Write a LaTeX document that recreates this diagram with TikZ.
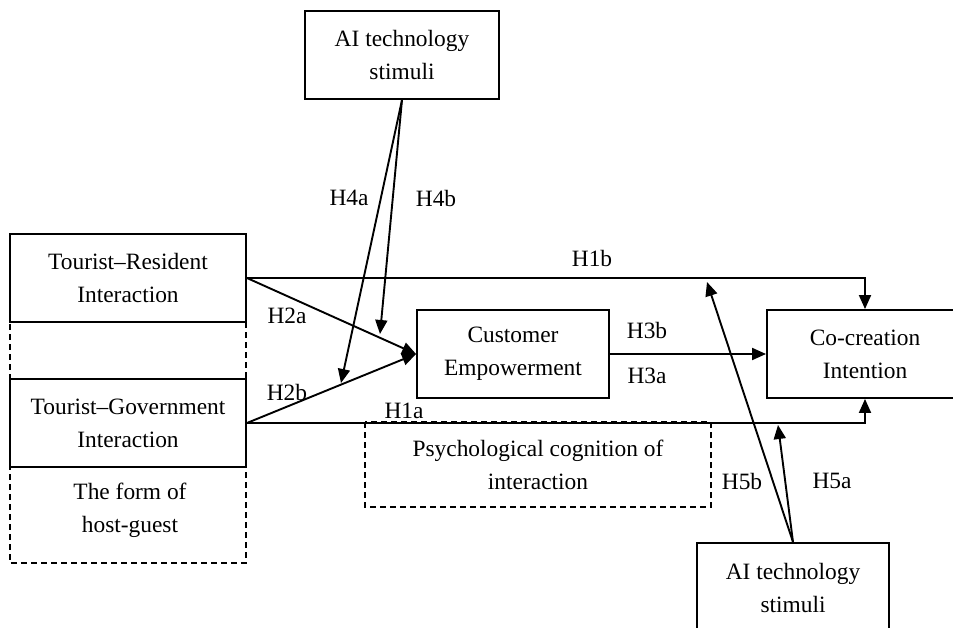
\documentclass[tikz,border=0pt]{standalone}
\usepackage{fontspec}
\setmainfont{Liberation Serif}
\usetikzlibrary{arrows.meta}
\begin{document}
\begin{tikzpicture}[x=1pt,y=-1pt,line width=1.9pt,
  every node/.style={font=\fontsize{23.4}{33}\selectfont,align=center,inner sep=0pt},
  box/.style={draw,fill=white},
  arr/.style={-{Triangle[length=14pt,width=12pt]}},
  dsh/.style={line width=1.4pt,dash pattern=on 6pt off 4pt}]
  \useasboundingbox (0,0) rectangle (953,628);
  % dashed groups
  \draw[dsh] (10,234) rectangle (246,563);
  \draw[dsh] (365,422) rectangle (711,507);
  \node (fm) at (130,510) {The form of\\host-guest};
  \node (ps) at (538,465) {Psychological cognition of\\interaction};
  % boxes
  \node[box,minimum width=194pt,minimum height=88pt] (ai1) at (402,55) {AI technology\\stimuli};
  \node[box,minimum width=236pt,minimum height=88pt] (tr) at (128,278) {Tourist--Resident\\Interaction};
  \node[box,minimum width=236pt,minimum height=88pt] (tg) at (128,423) {Tourist--Government\\Interaction};
  \node[box,minimum width=192pt,minimum height=88pt] (ce) at (513,354) {Customer\\Empowerment};
  \node[box,minimum width=196pt,minimum height=88pt] (cc) at (865,354) {Co-creation\\Intention};
  \node[box,minimum width=192pt,minimum height=90pt] (ai2) at (793,588) {AI technology\\stimuli};
  % paths
  \draw[arr] (tr.east) -| (cc.north);
  \draw[arr] (tg.east) -| (cc.south);
  \draw[arr] (tr.east) -- (ce.west);
  \draw[arr] (tg.east) -- (ce.west);
  \draw[arr] (ce) -- (cc);
  \coordinate (h4a) at (341,383); \coordinate (h4b) at (380,334);
  \draw[arr] (ai1.south) -- (h4a); \draw[arr] (ai1.south) -- (h4b);
  \coordinate (h5b) at (707,282); \coordinate (h5a) at (778,425);
  \draw[arr] (ai2.north) -- (h5b); \draw[arr] (ai2.north) -- (h5a);
  % labels
  \node (l1b) at (592,258) {H1b}; \node (l1a) at (404,411) {H1a};
  \node (l2a) at (287,316) {H2a}; \node (l2b) at (287,392) {H2b};
  \node (l3b) at (647,330) {H3b}; \node (l3a) at (647,376) {H3a};
  \node (l4a) at (349,198) {H4a}; \node (l4b) at (436,198) {H4b};
  \node (l5b) at (742,481) {H5b}; \node (l5a) at (832,481) {H5a};
\end{tikzpicture}
\end{document}
